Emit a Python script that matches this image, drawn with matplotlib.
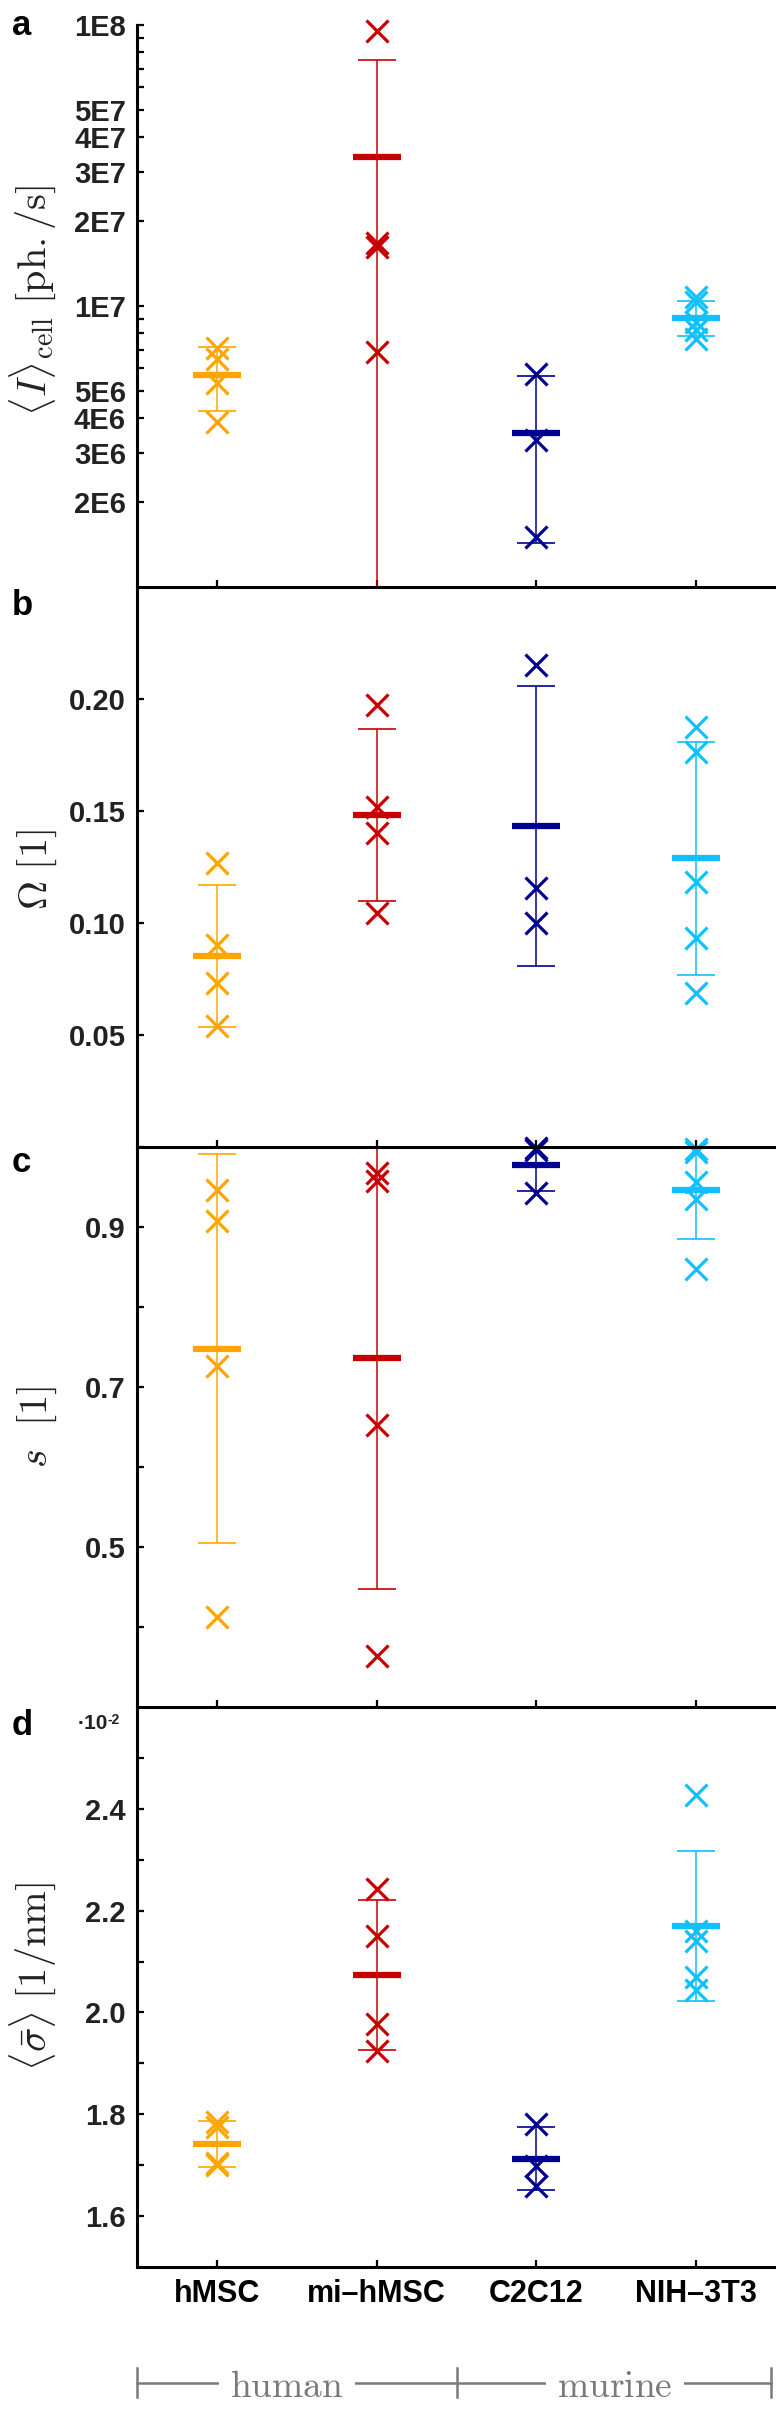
import numpy as np
import matplotlib
matplotlib.use('Agg')
import matplotlib.pyplot as plt
from matplotlib import transforms

plt.rcParams['mathtext.fontset'] = 'cm'
plt.rcParams['font.family'] = ['Liberation Sans', 'DejaVu Sans']

# ---------------- data ----------------
categories = ['hMSC', 'mi\u2013hMSC', 'C2C12', 'NIH\u20133T3']
colors = ['#FFA500', '#C80000', '#000090', '#10C0FF']

# panel a: <I>_cell [ph./s]
I_hMSC = [7.1e6, 6.5e6, 5.3e6, 3.85e6]
I_mi = [9.5e7, 1.68e7, 1.62e7, 6.85e6]
I_C2C12 = [5.71e6, 3.33e6, 1.51e6]
I_NIH = [1.08e7, 1.03e7, 8.8e6, 8.2e6, 7.6e6]
I_mean = [5.68e6, 3.39e7, 3.54e6, 9.1e6]
I_sd = [1.45e6, 4.1e7, 2.1e6, 1.3e6]

# panel b: Omega [1]
O_hMSC = [0.127, 0.090, 0.073, 0.054]
O_mi = [0.1975, 0.152, 0.140, 0.1043]
O_C2C12 = [0.215, 0.1155, 0.100]
O_NIH = [0.1875, 0.1762, 0.1185, 0.0934, 0.0689]
O_mean = [0.0853, 0.1483, 0.1434, 0.1288]
O_sd = [0.0317, 0.0385, 0.0625, 0.0518]

# panel c: s [1]
s_hMSC = [0.946, 0.907, 0.726, 0.412]
s_mi = [0.968, 0.958, 0.652, 0.364]
s_C2C12 = [0.999, 0.996, 0.942]
s_NIH = [0.998, 0.994, 0.956, 0.935, 0.847]
s_mean = [0.748, 0.7357, 0.977, 0.946]
s_sd = [0.2435, 0.288, 0.0324, 0.0613]

# panel d: <sigma> [1/nm] (x 1e-2)
g_hMSC = [1.785, 1.775, 1.705, 1.700]
g_mi = [2.243, 2.150, 1.977, 1.925]
g_C2C12 = [1.780, 1.698, 1.660]
g_NIH = [2.427, 2.160, 2.140, 2.070, 2.045]
g_mean = [1.741, 2.0735, 1.713, 2.170]
g_sd = [0.045, 0.147, 0.0613, 0.148]

# ticks
a_ticks = [2e6, 3e6, 4e6, 5e6, 6e6, 7e6, 8e6, 9e6, 1e7, 2e7, 3e7, 4e7, 5e7, 6e7, 7e7, 8e7, 9e7, 1e8]
a_labels = ['2E6', '3E6', '4E6', '5E6', '', '', '', '', '1E7', '2E7', '3E7', '4E7', '5E7', '', '', '', '', '1E8']
b_ticks = [0.05, 0.10, 0.15, 0.20]
b_labels = ['0.05', '0.10', '0.15', '0.20']
c_ticks = [0.4, 0.5, 0.6, 0.7, 0.8, 0.9, 1.0]
c_labels = ['', '0.5', '', '0.7', '', '0.9', '']
d_ticks = [1.6, 1.7, 1.8, 1.9, 2.0, 2.1, 2.2, 2.3, 2.4, 2.5]
d_labels = ['1.6', '', '1.8', '', '2.0', '', '2.2', '', '2.4', '']

# ---------------- figure ----------------
W, H = 776, 2410
fig = plt.figure(figsize=(W / 100, H / 100), dpi=100)
TXT = '#222222'


def rect(top, bottom, left=137, right=776):
    return [left / W, 1 - bottom / H, (right - left) / W, (bottom - top) / H]


def fx(px):
    return px / W


def fy(py):
    return 1 - py / H


def draw(ax, pts, mean, sd, log=False):
    xs = np.arange(1, len(categories) + 1)
    for i, (p, c) in enumerate(zip(pts, colors)):
        xi = xs[i]
        lo = sd[i]
        if log and mean[i] - sd[i] <= 0:
            lo = mean[i] * 0.999
        ax.errorbar([xi], [mean[i]], yerr=[[lo], [sd[i]]], fmt='none', ecolor=c,
                    elinewidth=1.1, capsize=14, capthick=1.2, zorder=2)
        ax.hlines(mean[i], xi - 0.15, xi + 0.15, colors=c, lw=4.5, zorder=3)
        ax.plot([xi] * len(p), p, ls='none', marker='x', ms=16, mew=2.3,
                color=c, clip_on=False, zorder=4)


def style(ax, ylim, ticks, labels, show_x=False):
    ax.set_xlim(0.5, 4.5)
    ax.set_ylim(*ylim)
    for s in ['top', 'right']:
        ax.spines[s].set_visible(False)
    for s in ['left', 'bottom']:
        ax.spines[s].set_linewidth(2.2)
        ax.spines[s].set_color('black')
    ax.minorticks_off()
    ax.set_yticks(ticks, labels, fontweight='bold', fontsize=21, color=TXT)
    ax.set_xticks(np.arange(1, len(categories) + 1))
    if show_x:
        ax.set_xticklabels(categories, fontweight='bold', fontsize=22, color='black')
    else:
        ax.set_xticklabels([])
    ax.tick_params(axis='y', direction='in', length=5, width=1.6, pad=8)
    ax.tick_params(axis='x', direction='in', length=5, width=1.6, pad=9)
    ax.minorticks_off()


ax_a = fig.add_axes(rect(25, 587))
ax_a.set_yscale('log')
draw(ax_a, [I_hMSC, I_mi, I_C2C12, I_NIH], I_mean, I_sd, log=True)
style(ax_a, (1e6, 1e8), a_ticks, a_labels)

ax_b = fig.add_axes(rect(587, 1147))
draw(ax_b, [O_hMSC, O_mi, O_C2C12, O_NIH], O_mean, O_sd)
style(ax_b, (0, 0.25), b_ticks, b_labels)

ax_c = fig.add_axes(rect(1147, 1707))
draw(ax_c, [s_hMSC, s_mi, s_C2C12, s_NIH], s_mean, s_sd)
style(ax_c, (0.3, 1.0), c_ticks, c_labels)

ax_d = fig.add_axes(rect(1707, 2267))
draw(ax_d, [g_hMSC, g_mi, g_C2C12, g_NIH], g_mean, g_sd)
style(ax_d, (1.5, 2.6), d_ticks, d_labels, show_x=True)

# make upper panels draw above lower ones for markers overflowing edges
for z, ax in enumerate([ax_d, ax_c, ax_b, ax_a]):
    ax.set_zorder(z + 1)
    ax.patch.set_alpha(0)

# panel letters
for letter, yb in zip('abcd', [35, 615, 1172, 1735]):
    fig.text(fx(12), fy(yb), letter, fontsize=25, fontweight='bold',
             ha='left', va='baseline', color='black')

# y labels
ylabels = [r'$\langle I\rangle_{\rm cell}\ [{\rm ph./s}]$',
           r'$\Omega\ [1]$',
           r'$s\ \ [1]$',
           r'$\langle\bar{\sigma}\rangle\ [1/{\rm nm}]$']
for lab, yc in zip(ylabels, [300, 870, 1427, 1977]):
    fig.text(fx(47), fy(yc), lab, fontsize=29, rotation=90, rotation_mode='anchor',
             ha='center', va='baseline', color=TXT)

# offset text panel d
fig.text(fx(108), fy(1729), '\u00b710', fontsize=15, fontweight='bold',
         ha='right', va='baseline', color=TXT)
fig.text(fx(108), fy(1724), '-2', fontsize=10, fontweight='bold',
         ha='left', va='baseline', color=TXT)

# human / murine bracket
gray = '#7a7a7a'
tr = transforms.blended_transform_factory(ax_d.transData, fig.transFigure)
yline = fy(2383)
ax_d.plot([0.5, 4.47], [yline, yline], color=gray, lw=1.8, transform=tr, clip_on=False)
for xb in [0.5, 2.5, 4.47]:
    ax_d.plot([xb, xb], [fy(2368), fy(2397)], color=gray, lw=1.8, transform=tr, clip_on=False)
for txt, xc in [('human', 1.44), ('murine', 3.49)]:
    ax_d.text(xc, fy(2397), r'$\mathrm{%s}$' % txt, transform=tr, ha='center', va='baseline',
              fontsize=27, color=gray,
              bbox=dict(facecolor='white', edgecolor='none', pad=8))

fig.savefig('out.png', dpi=100)
